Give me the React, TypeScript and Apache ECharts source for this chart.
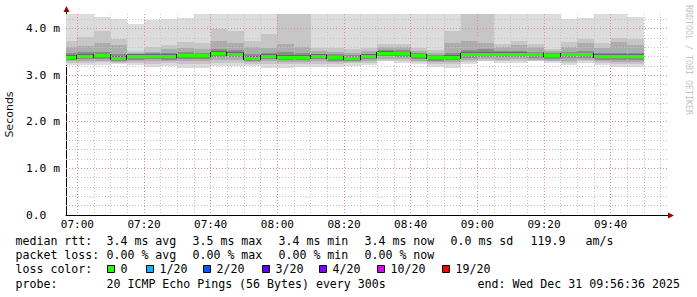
import React, { useEffect, useRef } from "react";
import * as echarts from "echarts";

// ---- data (SmokePing, 5 minute bins, values in ms) ----
const binStarts = [
  "06:55", "07:00", "07:05", "07:10", "07:15", "07:20", "07:25", "07:30", "07:35", "07:40",
  "07:45", "07:50", "07:55", "08:00", "08:05", "08:10", "08:15", "08:20", "08:25", "08:30",
  "08:35", "08:40", "08:45", "08:50", "08:55", "09:00", "09:05", "09:10", "09:15", "09:20",
  "09:25", "09:30", "09:35", "09:40", "09:45",
];
const BIN_MINUTES = 5;

const medianRtt = [3.40, 3.42, 3.43, 3.37, 3.41, 3.42, 3.41, 3.43, 3.43, 3.49, 3.46, 3.38, 3.42, 3.40, 3.40, 3.42, 3.39, 3.37, 3.42, 3.49, 3.48, 3.43, 3.39, 3.40, 3.46, 3.47, 3.47, 3.47, 3.45, 3.43, 3.45, 3.45, 3.41, 3.41, 3.41];
const pingMax = [4.62, 4.58, 4.25, 4.21, 4.11, 4.19, 4.21, 4.24, 4.55, 4.66, 4.60, 4.52, 4.57, 4.70, 4.64, 4.53, 4.56, 4.51, 4.58, 4.61, 4.55, 4.59, 4.52, 4.63, 4.68, 4.72, 4.57, 4.54, 4.60, 4.50, 4.21, 4.24, 4.56, 4.61, 4.25];
const pingP90 = [3.73, 3.83, 3.96, 3.79, 3.53, 3.61, 3.66, 3.72, 3.69, 3.99, 3.96, 3.73, 3.90, 4.45, 4.40, 3.60, 3.59, 3.56, 3.58, 3.68, 3.68, 3.59, 3.54, 3.95, 4.40, 4.50, 3.68, 3.75, 3.68, 3.57, 3.71, 3.79, 3.69, 3.81, 3.78];
const pingP75 = [3.61, 3.63, 3.70, 3.66, 3.49, 3.51, 3.56, 3.59, 3.57, 3.73, 3.69, 3.61, 3.58, 3.67, 3.62, 3.53, 3.51, 3.49, 3.52, 3.61, 3.61, 3.53, 3.49, 3.69, 3.73, 3.69, 3.61, 3.66, 3.61, 3.53, 3.61, 3.69, 3.58, 3.71, 3.66];
const pingP60 = [3.49, 3.51, 3.51, 3.46, 3.46, 3.48, 3.48, 3.50, 3.49, 3.56, 3.54, 3.46, 3.48, 3.50, 3.48, 3.47, 3.45, 3.43, 3.47, 3.54, 3.54, 3.48, 3.44, 3.48, 3.55, 3.56, 3.53, 3.53, 3.51, 3.49, 3.51, 3.52, 3.48, 3.49, 3.48];
const pingP55 = [3.44, 3.46, 3.46, 3.41, 3.45, 3.45, 3.45, 3.47, 3.47, 3.52, 3.50, 3.42, 3.46, 3.44, 3.44, 3.45, 3.42, 3.40, 3.45, 3.52, 3.51, 3.46, 3.42, 3.44, 3.50, 3.51, 3.50, 3.50, 3.48, 3.46, 3.48, 3.48, 3.45, 3.45, 3.45];
const pingP45 = [3.36, 3.38, 3.39, 3.33, 3.37, 3.38, 3.37, 3.39, 3.39, 3.44, 3.42, 3.34, 3.38, 3.36, 3.36, 3.38, 3.35, 3.33, 3.38, 3.45, 3.43, 3.39, 3.35, 3.36, 3.41, 3.43, 3.43, 3.43, 3.41, 3.39, 3.41, 3.41, 3.37, 3.37, 3.37];
const pingP40 = [3.33, 3.35, 3.36, 3.31, 3.34, 3.35, 3.34, 3.36, 3.35, 3.40, 3.39, 3.31, 3.35, 3.33, 3.33, 3.35, 3.32, 3.30, 3.35, 3.42, 3.40, 3.36, 3.32, 3.33, 3.38, 3.40, 3.40, 3.40, 3.38, 3.36, 3.38, 3.38, 3.34, 3.34, 3.34];
const pingP25 = [3.30, 3.31, 3.32, 3.29, 3.30, 3.30, 3.30, 3.31, 3.30, 3.34, 3.34, 3.28, 3.30, 3.29, 3.29, 3.30, 3.29, 3.28, 3.31, 3.36, 3.35, 3.32, 3.28, 3.28, 3.33, 3.35, 3.34, 3.35, 3.34, 3.32, 3.32, 3.34, 3.30, 3.29, 3.29];
const pingP10 = [3.27, 3.27, 3.28, 3.27, 3.27, 3.25, 3.26, 3.25, 3.24, 3.27, 3.27, 3.25, 3.24, 3.24, 3.25, 3.25, 3.25, 3.26, 3.27, 3.32, 3.30, 3.29, 3.25, 3.24, 3.29, 3.32, 3.30, 3.30, 3.32, 3.30, 3.27, 3.30, 3.27, 3.25, 3.25];
const pingMin = [3.23, 3.23, 3.23, 3.25, 3.23, 3.19, 3.20, 3.17, 3.17, 3.20, 3.21, 3.20, 3.17, 3.17, 3.19, 3.19, 3.19, 3.21, 3.23, 3.30, 3.26, 3.25, 3.19, 3.17, 3.25, 3.30, 3.26, 3.26, 3.30, 3.26, 3.23, 3.27, 3.23, 3.19, 3.19];

const timeLabels = ["07:00", "07:20", "07:40", "08:00", "08:20", "08:40", "09:00", "09:20", "09:40"];
const yTickValues = [0, 1, 2, 3, 4];

const rttStats = ["3.4 ms avg", "3.5 ms max", "3.4 ms min", "3.4 ms now", "0.0 ms sd", "119.9", "am/s"];
const lossStats = ["0.00 % avg", "0.00 % max", "0.00 % min", "0.00 % now"];
const lossLabels = ["0", "1/20", "2/20", "3/20", "4/20", "10/20", "19/20"];
const lossColors = ["#26ff00", "#00b8ff", "#0059ff", "#5e00ff", "#7e00ff", "#dd00ff", "#ff0000"];
const probeText = "20 ICMP Echo Pings (56 Bytes) every 300s";
const endText = "end: Wed Dec 31 09:56:36 2025";
const startTime = "06:56:36";
const spanMinutes = 180;

// ---- helpers ----
const toMin = (s: string) => {
  const p = s.split(":").map(Number);
  return p[0] * 60 + p[1] + (p[2] || 0) / 60;
};
const fmtMin = (v: number) => {
  const m = Math.round(v);
  const h = Math.floor(m / 60);
  const mm = m % 60;
  return String(h).padStart(2, "0") + ":" + String(mm).padStart(2, "0");
};

const X_MIN = toMin(startTime);
const X_MAX = X_MIN + spanMinutes;
const Y_MAX = 4.32;

const MONO = '"DejaVu Sans Mono", monospace';
const bandColors = ["#dcdcdc", "#c6c6c6", "#acacac", "#8c8c8c", "#686868"];

export default function App() {
  const ref = useRef<HTMLDivElement>(null);
  useEffect(() => {
    if (!ref.current) return;
    const chart = echarts.init(ref.current, null, { renderer: "svg" });

    const smokeData = binStarts.map((s, i) => {
      const st = toMin(s);
      return [st, st + BIN_MINUTES, pingMin[i], pingP10[i], pingP25[i], pingP40[i], pingP45[i], pingP55[i], pingP60[i], pingP75[i], pingP90[i], pingMax[i]];
    });
    const medianData = binStarts.map((s, i) => {
      const st = toMin(s);
      return [st, st + BIN_MINUTES, medianRtt[i], i > 0 ? medianRtt[i - 1] : medianRtt[i]];
    });

    const vGrid: number[][] = [];
    for (let t = Math.ceil(X_MIN / 5) * 5; t < X_MAX; t += 5) vGrid.push([t, 0]);
    const hGrid: number[][] = [];
    for (let k = 1; k * 0.2 < Y_MAX; k++) hGrid.push([X_MIN, +(k * 0.2).toFixed(1)]);

    const crisp = (v: number) => Math.round(v) + 0.5;

    const legendY = [241, 255, 269, 283.5];
    const col1 = [107, 193, 279, 365, 451, 531, 586];
    const boxX = [107, 146, 203, 262, 319, 377, 442];
    const textStyle = (text: string) => ({ text, fontFamily: MONO, fontSize: 11.6, fill: "#000", verticalAlign: "middle" });
    const graphics: any[] = [];
    graphics.push({ type: "text", x: 15.5, y: legendY[0], style: textStyle("median rtt:") });
    rttStats.forEach((t, i) => graphics.push({ type: "text", x: col1[i] - 0.5, y: legendY[0], style: textStyle(t) }));
    graphics.push({ type: "text", x: 15.5, y: legendY[1], style: textStyle("packet loss:") });
    lossStats.forEach((t, i) => graphics.push({ type: "text", x: col1[i] - 0.5, y: legendY[1], style: textStyle(t) }));
    graphics.push({ type: "text", x: 15.5, y: legendY[2], style: textStyle("loss color:") });
    lossLabels.forEach((t, i) => {
      graphics.push({ type: "rect", shape: { x: boxX[i] + 0.5, y: 265.5, width: 7, height: 7 }, style: { fill: lossColors[i], stroke: "#000", lineWidth: 1 } });
      graphics.push({ type: "text", x: boxX[i] + 13.5, y: legendY[2], style: textStyle(t) });
    });
    graphics.push({ type: "text", x: 15.5, y: legendY[3], style: textStyle("probe:") });
    graphics.push({ type: "text", x: 106.5, y: legendY[3], style: textStyle(probeText) });
    graphics.push({ type: "text", x: 477.5, y: legendY[3], style: textStyle(endText) });
    // watermark
    graphics.push({
      type: "text", x: 688.5, y: 5, rotation: -Math.PI / 2,
      style: { text: "RRDTOOL / TOBI OETIKER", fontFamily: MONO, fontSize: 8.3, fill: "#c4c4c4", verticalAlign: "middle", align: "left" },
    });
    // axis extensions and arrows
    graphics.push({ type: "line", shape: { x1: 666, y1: 215.5, x2: 669, y2: 215.5 }, style: { stroke: "#000", lineWidth: 1 } });
    graphics.push({ type: "line", shape: { x1: 66.5, y1: 14, x2: 66.5, y2: 11 }, style: { stroke: "#000", lineWidth: 1 } });
    graphics.push({ type: "polygon", shape: { points: [[668, 212.5], [674, 215.5], [668, 218.5]] }, style: { fill: "#a00000" } });
    graphics.push({ type: "polygon", shape: { points: [[63.5, 12], [66.5, 6], [69.5, 12]] }, style: { fill: "#a00000" } });

    const option: any = {
      animation: false,
      backgroundColor: "#ffffff",
      grid: { left: 66, right: 31, top: 14, bottom: 82, outerBoundsMode: "none", containLabel: false },
      xAxis: {
        type: "value",
        min: X_MIN,
        max: X_MAX,
        axisLine: { show: true, lineStyle: { color: "#000", width: 1 } },
        axisTick: { show: false },
        splitLine: { show: false },
        axisLabel: {
          customValues: timeLabels.map(toMin),
          formatter: (v: number) => fmtMin(v),
          fontFamily: MONO,
          fontSize: 11,
          color: "#000",
          margin: 4,
        },
      },
      yAxis: {
        type: "value",
        min: 0,
        max: Y_MAX,
        interval: 1,
        name: "Seconds",
        nameLocation: "middle",
        nameGap: 48,
        nameRotate: 90,
        nameTextStyle: { fontFamily: '"DejaVu Sans", sans-serif', fontSize: 11, color: "#111" },
        axisLine: { show: true, lineStyle: { color: "#000", width: 1 } },
        axisTick: { show: false },
        splitLine: { show: false },
        axisLabel: {
          showMaxLabel: false,
          fontFamily: MONO,
          fontSize: 11.3,
          color: "#000",
          margin: 6,
          formatter: (v: number) => {
            if (!yTickValues.some((t) => Math.abs(t - v) < 1e-6)) return "";
            return v === 0 ? "0.0\u00a0\u00a0" : v.toFixed(1) + " m";
          },
        },
      },
      series: [
        {
          type: "custom",
          z: 2,
          silent: true,
          clip: true,
          data: smokeData,
          encode: { x: [0, 1], y: [2, 11] },
          renderItem: (params: any, api: any) => {
            const s = Math.max(api.value(0), X_MIN);
            const e = Math.min(api.value(1), X_MAX);
            const xa = Math.round(api.coord([s, 0])[0]);
            const xb = Math.round(api.coord([e, 0])[0]);
            const children: any[] = [];
            for (let b = 0; b < 5; b++) {
              const lo = api.value(2 + b);
              const hi = Math.min(api.value(11 - b), Y_MAX);
              const yt = Math.round(api.coord([s, hi])[1]);
              const yb = Math.round(api.coord([s, lo])[1]);
              children.push({ type: "rect", shape: { x: xa, y: yt, width: xb - xa, height: yb - yt }, style: { fill: bandColors[b] } });
            }
            return { type: "group", children };
          },
        },
        {
          type: "custom",
          z: 3,
          silent: true,
          data: vGrid,
          encode: { x: 0, y: 1 },
          renderItem: (params: any, api: any) => {
            const t = api.value(0);
            const x = crisp(api.coord([t, 0])[0] - 0.5);
            const y1 = api.coord([t, Y_MAX])[1];
            const y2 = api.coord([t, 0])[1];
            const major = Math.abs(((t - 420) % 20 + 20) % 20) < 1e-6;
            return { type: "line", shape: { x1: x, y1, x2: x, y2 }, style: { stroke: major ? "#e08c8c" : "#c4c4c4", lineWidth: 1, lineDash: [1, 2] } };
          },
        },
        {
          type: "custom",
          z: 3,
          silent: true,
          data: hGrid,
          encode: { x: 0, y: 1 },
          renderItem: (params: any, api: any) => {
            const v = api.value(1);
            const y = crisp(api.coord([X_MIN, v])[1] - 0.5);
            const x1 = api.coord([X_MIN, v])[0];
            const x2 = api.coord([X_MAX, v])[0] + 2;
            const major = Math.abs(v - Math.round(v)) < 1e-6;
            return { type: "line", shape: { x1, y1: y, x2, y2: y }, style: { stroke: major ? "#e08c8c" : "#c4c4c4", lineWidth: 1, lineDash: [1, 2] } };
          },
        },
        {
          type: "custom",
          z: 4,
          silent: true,
          clip: true,
          data: medianData,
          encode: { x: [0, 1], y: 2 },
          renderItem: (params: any, api: any) => {
            const s = Math.max(api.value(0), X_MIN);
            const e = Math.min(api.value(1), X_MAX);
            const xa = Math.round(api.coord([s, 0])[0]);
            const xb = Math.round(api.coord([e, 0])[0]);
            const y = Math.round(api.coord([s, api.value(2)])[1]);
            const yp = Math.round(api.coord([s, api.value(3)])[1]);
            const children: any[] = [];
            if (params.dataIndex > 0 && yp !== y) {
              children.push({ type: "rect", shape: { x: xa - 1, y: Math.min(y, yp) - 1, width: 1, height: Math.abs(y - yp) + 3 }, style: { fill: "#000" } });
            }
            children.push({ type: "rect", shape: { x: xa, y: y - 1, width: xb - xa, height: 3 }, style: { fill: lossColors[0] } });
            return { type: "group", children };
          },
        },
      ],
      graphic: graphics,
    };
    chart.setOption(option);
    return () => chart.dispose();
  }, []);
  return <div ref={ref} style={{ position: "fixed", left: 0, top: 0, width: 697, height: 297, background: "#fff" }} />;
}
